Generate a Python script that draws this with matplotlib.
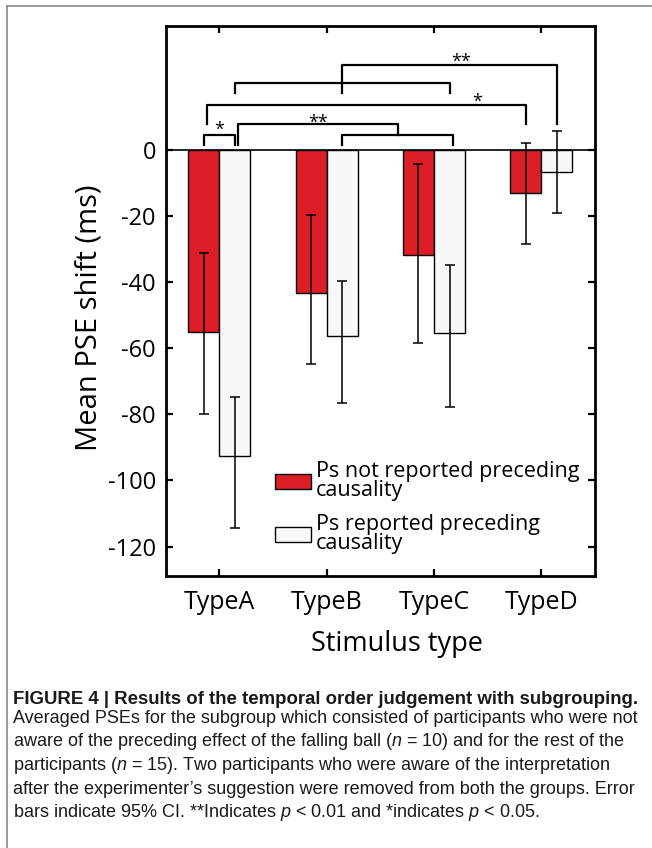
import matplotlib
matplotlib.use("Agg")
import matplotlib.pyplot as plt
from matplotlib.lines import Line2D
from matplotlib.patches import Patch

plt.rcParams['axes.unicode_minus'] = False
plt.rcParams['mathtext.fontset'] = 'custom'
plt.rcParams['mathtext.it'] = 'Liberation Sans:italic'
plt.rcParams['mathtext.rm'] = 'Liberation Sans'

CHART_FONT = ['Open Sans', 'DejaVu Sans']
CAPTION_FONT = ['Liberation Sans Narrow', 'Liberation Sans']

# data (ms)
types = ['TypeA', 'TypeB', 'TypeC', 'TypeD']
not_reported_mean = [-55.2, -43.2, -31.9, -13.1]
not_reported_ci_low = [-80.0, -64.8, -58.5, -28.5]
not_reported_ci_high = [-31.3, -19.7, -4.1, 2.2]
reported_mean = [-92.7, -56.4, -55.4, -6.6]
reported_ci_low = [-114.4, -76.7, -77.7, -19.2]
reported_ci_high = [-74.7, -39.7, -34.8, 5.8]

legend_labels = ['Ps not reported preceding\ncausality',
                 'Ps reported preceding\ncausality']

RED = '#dc1f26'
WHITE = '#f8f8f8'
W = 0.29


def barx(g, s):
    # g = group index, s = 0 for not reported (red), 1 for reported (white)
    return g + 1 + (W / 2 if s else -W / 2)


fig = plt.figure(figsize=(6.52, 8.48), dpi=100)
ax = fig.add_axes([0.2541, 0.3208, 0.6585, 0.6489])

xs = range(1, len(types) + 1)
x_red = [x - W / 2 for x in xs]
x_white = [x + W / 2 for x in xs]

ax.bar(x_red, not_reported_mean, W, color=RED, edgecolor='black', linewidth=1.0,
       zorder=2)
ax.bar(x_white, reported_mean, W, color=WHITE, edgecolor='black', linewidth=1.0,
       zorder=2)

err_red = [[m - lo for m, lo in zip(not_reported_mean, not_reported_ci_low)],
           [hi - m for m, hi in zip(not_reported_mean, not_reported_ci_high)]]
err_white = [[m - lo for m, lo in zip(reported_mean, reported_ci_low)],
             [hi - m for m, hi in zip(reported_mean, reported_ci_high)]]
ax.errorbar(x_red, not_reported_mean, yerr=err_red, fmt='none', ecolor='black',
            elinewidth=1.1, capsize=3.5, capthick=1.1, zorder=3)
ax.errorbar(x_white, reported_mean, yerr=err_white, fmt='none', ecolor='black',
            elinewidth=1.1, capsize=3.5, capthick=1.1, zorder=3)

ax.axhline(0, color='black', linewidth=1.2, zorder=4)

# significance brackets
lw = 1.6
ax.plot([barx(0, 0), barx(0, 0), barx(0, 1), barx(0, 1)], [1.5, 4.5, 4.5, 1.5],
        color='black', lw=lw)
ax.text(1.0, 6.0, '*', ha='center', va='center', fontsize=13, family=CHART_FONT)

bc_left = barx(1, 1)
bc_right = barx(2, 1) + 0.03
bc_mid = (bc_left + bc_right) / 2
ax.plot([bc_left, bc_left, bc_right, bc_right], [1.5, 4.5, 4.5, 1.5],
        color='black', lw=lw)
a_left = barx(0, 1) + 0.03
ax.plot([a_left, a_left, bc_mid, bc_mid], [1.5, 7.8, 7.8, 4.5],
        color='black', lw=lw)
ax.text((a_left + bc_mid) / 2, 8.2, '**', ha='center', va='center',
        fontsize=13, family=CHART_FONT)

ad_left = barx(0, 0) + 0.03
ad_right = barx(3, 0)
ax.plot([ad_left, ad_left, ad_right, ad_right], [7.8, 13.6, 13.6, 7.8],
        color='black', lw=lw)
ax.text(3.40, 14.6, '*', ha='center', va='center', fontsize=13, family=CHART_FONT)

ac_left = barx(0, 1)
ac_right = barx(2, 1)
ac_mid = (ac_left + ac_right) / 2
ax.plot([ac_left, ac_left, ac_right, ac_right], [17.2, 20.2, 20.2, 17.2],
        color='black', lw=lw)
d_right = barx(3, 1)
ax.plot([ac_mid, ac_mid, d_right, d_right], [17.2, 25.8, 25.8, 7.9],
        color='black', lw=lw)
ax.text(3.25, 26.6, '**', ha='center', va='center', fontsize=13, family=CHART_FONT)

ax.set_xlim(0.5, 4.5)
ax.set_ylim(-128.9, 37.6)
ax.set_xticks(list(xs))
ax.set_xticklabels(types, family=CHART_FONT, fontsize=18)
ax.set_yticks([0, -20, -40, -60, -80, -100, -120])
ax.set_yticklabels(['0', '-20', '-40', '-60', '-80', '-100', '-120'],
                   family=CHART_FONT, fontsize=17)
ax.tick_params(axis='both', direction='in', length=5, width=1.6,
               top=True, right=True)
ax.tick_params(axis='y', pad=7)
ax.tick_params(axis='x', pad=10)
for sp in ax.spines.values():
    sp.set_linewidth(2.0)

ax.set_xlabel('Stimulus type', family=CHART_FONT, fontsize=19.5, va='baseline')
ax.xaxis.set_label_coords(0.538, -0.1363)
ax.set_ylabel('Mean PSE shift (ms)', family=CHART_FONT, fontsize=21,
              va='baseline')
ax.yaxis.set_label_coords(-0.1607, 0.4697)

handles = [Patch(facecolor=RED, edgecolor='black', linewidth=1.0),
           Patch(facecolor=WHITE, edgecolor='black', linewidth=1.0)]
leg = ax.legend(handles, legend_labels, loc='upper left',
                bbox_to_anchor=(0.235, 0.225), frameon=False,
                prop={'family': CHART_FONT, 'size': 15.5},
                handlelength=1.65, handleheight=0.7, handletextpad=0.25,
                labelspacing=0.6, borderaxespad=0)
for t in leg.get_texts():
    t.set_linespacing(0.9)

# outer frame of the figure panel
fig.add_artist(Line2D([7 / 652, 7 / 652], [0, 1 - 6 / 848],
                      transform=fig.transFigure, color='#8a8a8a', lw=1.2))
fig.add_artist(Line2D([7 / 652, 1], [1 - 6 / 848, 1 - 6 / 848],
                      transform=fig.transFigure, color='#8a8a8a', lw=1.2))

caption = [
    "Averaged PSEs for the subgroup which consisted of participants who were not",
    "aware of the preceding effect of the falling ball ($n$ = 10) and for the rest of the",
    "participants ($n$ = 15). Two participants who were aware of the interpretation",
    "after the experimenter\u2019s suggestion were removed from both the groups. Error",
    "bars indicate 95% CI. **Indicates $p$ < 0.01 and *indicates $p$ < 0.05.",
]
fig.text(13 / 652, 1 - 704 / 848,
         'FIGURE 4 | Results of the temporal order judgement with subgrouping.',
         family=CAPTION_FONT, fontsize=13.4, fontweight='bold', va='baseline',
         color='#1a1a1a')
for i, line in enumerate(caption):
    fig.text(13 / 652, 1 - (723 + 23.5 * i) / 848, line, family=CAPTION_FONT,
             fontsize=13, va='baseline', color='#1a1a1a')

fig.savefig('out.png', dpi=100)
